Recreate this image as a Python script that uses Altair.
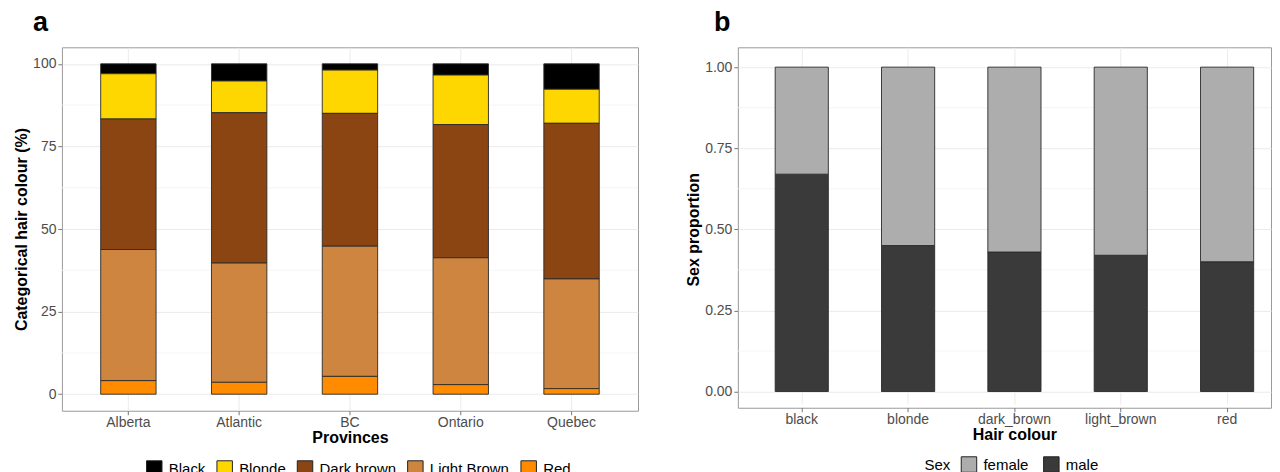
import altair as alt
import pandas as pd

# ---- Panel a data ----
provinces = ["Alberta", "Atlantic", "BC", "Ontario", "Quebec"]
hair_colours = ["Black", "Blonde", "Dark brown", "Light Brown", "Red"]
black = [3.0, 5.2, 1.9, 3.4, 7.7]
blonde = [13.7, 9.6, 13.1, 15.0, 10.3]
dark_brown = [39.5, 45.5, 40.2, 40.3, 47.1]
light_brown = [39.7, 36.1, 39.4, 38.4, 33.2]
red = [4.1, 3.6, 5.4, 2.9, 1.7]
hair_palette = ["#000000", "#FFD700", "#8B4513", "#CD853F", "#FF8C00"]
y_ticks_a = [0, 25, 50, 75, 100]
y_minor_a = [12.5, 37.5, 62.5, 87.5]

# ---- Panel b data ----
hair_levels = ["black", "blonde", "dark_brown", "light_brown", "red"]
male = [0.67, 0.45, 0.43, 0.42, 0.40]
female = [0.33, 0.55, 0.57, 0.58, 0.60]
sexes = ["female", "male"]
sex_palette = ["#ADADAD", "#3A3A3A"]
y_ticks_b = [0, 0.25, 0.5, 0.75, 1.0]
y_minor_b = [0.125, 0.375, 0.625, 0.875]

FONT = "Liberation Sans"

series_a = [black, blonde, dark_brown, light_brown, red]
rows_a = []
for hi, (h, vals) in enumerate(zip(hair_colours, series_a)):
    for p, v in zip(provinces, vals):
        rows_a.append({"Province": p, "Hair": h, "Value": v, "rank": len(hair_colours) - 1 - hi})
df_a = pd.DataFrame(rows_a)

rows_b = []
for h, m, f in zip(hair_levels, male, female):
    rows_b.append({"HairColour": h, "Sex": "male", "Prop": m, "rank": 0})
    rows_b.append({"HairColour": h, "Sex": "female", "Prop": f, "rank": 1})
df_b = pd.DataFrame(rows_b)

minor_a = pd.DataFrame({"Value": y_minor_a})
minor_b = pd.DataFrame({"Prop": y_minor_b})

y_axis_a = alt.Axis(title="Categorical hair colour (%)", values=y_ticks_a, grid=True, format="d")
y_scale_a = alt.Scale(domain=[-5, 105], nice=False, zero=False)
y_axis_b = alt.Axis(title="Sex proportion", values=y_ticks_b, grid=True, format=".2f")
y_scale_b = alt.Scale(domain=[-0.05, 1.05], nice=False, zero=False, range=[361, 3.6])

legend_common = dict(
    orient="none", direction="horizontal", symbolType="square", symbolSize=240,
    symbolStrokeColor="#222222", symbolStrokeWidth=1, labelFontSize=15,
    labelFont=FONT, labelColor="#000000", labelOffset=6,
)

minor_rules_a = alt.Chart(minor_a).mark_rule(color="#f3f3f3", strokeWidth=0.8).encode(
    y=alt.Y("Value:Q", scale=y_scale_a, axis=y_axis_a)
)
bars_a = alt.Chart(df_a).mark_bar(stroke="#2a2a2a", strokeWidth=0.9).encode(
    x=alt.X("Province:N", sort=provinces,
            scale=alt.Scale(paddingInner=0.5, paddingOuter=0.35),
            axis=alt.Axis(title="Provinces", bandPosition=0.5, grid=True, labelAngle=0,
                          labelPadding=1, titlePadding=0)),
    y=alt.Y("Value:Q", stack="zero", scale=y_scale_a, axis=y_axis_a),
    color=alt.Color("Hair:N", scale=alt.Scale(domain=hair_colours, range=hair_palette),
                    legend=alt.Legend(title=None, legendX=84, legendY=413, columnPadding=8.5,
                                      **legend_common)),
    order=alt.Order("rank:Q", sort="ascending"),
)
chart_a = alt.layer(minor_rules_a, bars_a).properties(
    width=577, height=364,
    title=alt.TitleParams("a", anchor="start", frame="group", fontSize=27, fontWeight="bold",
                          font=FONT, dx=-29, dy=-5, offset=5, color="#000000"),
)

minor_rules_b = alt.Chart(minor_b).mark_rule(color="#f3f3f3", strokeWidth=0.8).encode(
    y=alt.Y("Prop:Q", scale=y_scale_b, axis=y_axis_b)
)
bars_b = alt.Chart(df_b).mark_bar(stroke="#2a2a2a", strokeWidth=0.9).encode(
    x=alt.X("HairColour:N", sort=hair_levels,
            scale=alt.Scale(paddingInner=0.5, paddingOuter=0.257, align=0.683),
            axis=alt.Axis(title="Hair colour", bandPosition=0.5, grid=True, labelAngle=0,
                          titleX=277, labelPadding=1, titlePadding=0)),
    y=alt.Y("Prop:Q", stack="zero", scale=y_scale_b, axis=y_axis_b),
    color=alt.Color("Sex:N", scale=alt.Scale(domain=sexes, range=sex_palette),
                    legend=alt.Legend(title="Sex", titleOrient="left", titleFontSize=15,
                                      titleFontWeight="normal", titleFont=FONT, titleColor="#000000",
                                      titlePadding=10, columnPadding=11.5,
                                      legendX=187, legendY=409, **legend_common)),
    order=alt.Order("rank:Q", sort="ascending"),
)
chart_b = alt.layer(minor_rules_b, bars_b).properties(
    width=534, height=361,
    title=alt.TitleParams("b", anchor="start", frame="group", fontSize=27, fontWeight="bold",
                          font=FONT, dx=-24, dy=-5, offset=5, color="#000000"),
)

chart = alt.hconcat(chart_a, chart_b, spacing=46).resolve_scale(
    color="independent", x="independent", y="independent"
).configure(
    padding={"left": 5, "top": 0, "right": 0, "bottom": 0},
    background="white",
).configure_view(
    stroke="#9a9a9a", strokeWidth=1, fill="white",
).configure_axis(
    labelFont=FONT, labelFontSize=14, labelColor="#4d4d4d", labelPadding=2,
    tickColor="#555555", tickSize=4, tickWidth=0.8,
    titleFont=FONT, titleFontSize=16, titleFontWeight="bold", titleColor="#000000",
    titlePadding=3, domain=False, gridColor="#ebebeb", gridWidth=1,
).configure_legend(
    labelFont=FONT,
)

chart.save("out.html", embed_options={"renderer": "svg", "actions": False})
